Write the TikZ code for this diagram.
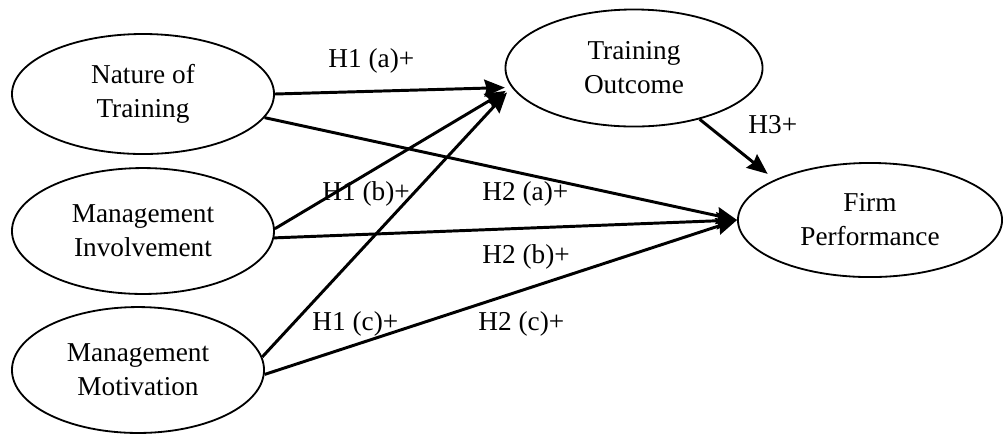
\documentclass[tikz,border=0pt]{standalone}
\usepackage{fontspec}
\setmainfont{Liberation Serif}
\usetikzlibrary{shapes.geometric,arrows.meta}
\tikzset{
  latent/.style={draw,ellipse,line width=0.8pt,inner sep=0pt,align=center,font=\fontsize{12}{15}\selectfont},
  hyp/.style={->,line width=1.3pt},
  hlabel/.style={anchor=base west,inner sep=0pt,font=\fontsize{12}{14}\selectfont}
}
\begin{document}
\begin{tikzpicture}[x=0.44pt,y=-0.44pt,>={Stealth[length=9pt,width=7.5pt,inset=1pt]}]
  \useasboundingbox (0,0) rectangle (1003,435);
  \node [latent,minimum width=115.3pt,minimum height=52.8pt] (nature) at (143,94) {Nature of\\Training};
  \node [latent,minimum width=115.3pt,minimum height=55.4pt] (involve) at (143,231) {Management\\Involvement};
  \node [latent,minimum width=110.9pt,minimum height=55.4pt] (motiv) at (138,370) {Management\\Motivation};
  \node [latent,minimum width=113.1pt,minimum height=51.5pt] (outcome) at (634,68) {Training\\Outcome};
  \node [latent,minimum width=116.2pt,minimum height=50.2pt] (firm) at (870,220) {Firm\\Performance};
  % hypotheses
  \draw [hyp,shorten >=3pt] (nature.east) -- (outcome.189);
  \draw [hyp] (nature.-11) -- (firm.west);
  \draw [hyp,shorten >=3pt] (involve.1) -- (outcome.189);
  \draw [hyp] (involve.-3) -- (firm.west);
  \draw [hyp,shorten >=3pt] (motiv.6) -- (outcome.189);
  \draw [hyp] (motiv.-2) -- (firm.west);
  \draw [hyp,shorten >=4pt] (outcome.-38) -- (firm.157);
  \node [hlabel] (h1a) at (328,67) {H1 (a)+};
  \node [hlabel] (h1b) at (322,200) {H1 (b)+};
  \node [hlabel] (h2a) at (482,200) {H2 (a)+};
  \node [hlabel] (h2b) at (482,263) {H2 (b)+};
  \node [hlabel] (h1c) at (312,330) {H1 (c)+};
  \node [hlabel] (h2c) at (478,330) {H2 (c)+};
  \node [hlabel] (h3) at (748,133) {H3+};
\end{tikzpicture}
\end{document}
